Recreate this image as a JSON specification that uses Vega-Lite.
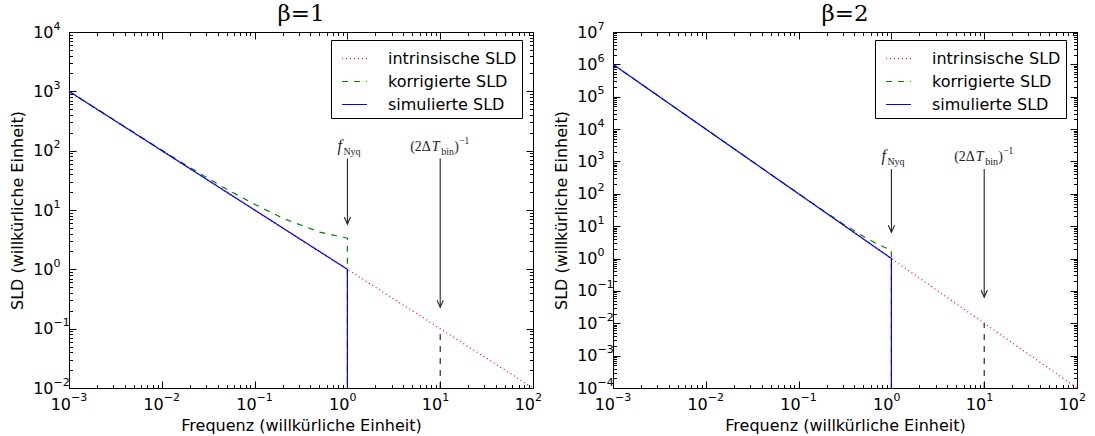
{
  "$schema": "https://vega.github.io/schema/vega-lite/v6.json",
  "padding": {"left": 8, "top": 2, "right": 5, "bottom": 0},
  "bounds": "flush",
  "spacing": 80,
  "datasets": {
    "lines_b1": [
      {"series": "intrinsische SLD", "f": 0.001, "sld": 1000},
      {"series": "intrinsische SLD", "f": 100, "sld": 0.01},
      {"series": "korrigierte SLD", "f": 0.001, "sld": 1002.3},
      {"series": "korrigierte SLD", "f": 0.003, "sld": 335.6},
      {"series": "korrigierte SLD", "f": 0.01, "sld": 102.3},
      {"series": "korrigierte SLD", "f": 0.02, "sld": 52.3},
      {"series": "korrigierte SLD", "f": 0.05, "sld": 22.35},
      {"series": "korrigierte SLD", "f": 0.1, "sld": 12.5},
      {"series": "korrigierte SLD", "f": 0.2, "sld": 7.3},
      {"series": "korrigierte SLD", "f": 0.5, "sld": 4.25},
      {"series": "korrigierte SLD", "f": 0.8, "sld": 3.6},
      {"series": "korrigierte SLD", "f": 1, "sld": 3.34},
      {"series": "korrigierte SLD", "f": 1, "sld": 0.01},
      {"series": "simulierte SLD", "f": 0.001, "sld": 1000},
      {"series": "simulierte SLD", "f": 1, "sld": 1},
      {"series": "simulierte SLD", "f": 1, "sld": 0.01}
    ],
    "lines_b2": [
      {"series": "intrinsische SLD", "f": 0.001, "sld": 1000000},
      {"series": "intrinsische SLD", "f": 100, "sld": 0.0001},
      {"series": "korrigierte SLD", "f": 0.001, "sld": 1000000},
      {"series": "korrigierte SLD", "f": 0.01, "sld": 10000.8},
      {"series": "korrigierte SLD", "f": 0.1, "sld": 100.8},
      {"series": "korrigierte SLD", "f": 0.2, "sld": 25.8},
      {"series": "korrigierte SLD", "f": 0.3, "sld": 11.9},
      {"series": "korrigierte SLD", "f": 0.5, "sld": 4.8},
      {"series": "korrigierte SLD", "f": 0.7, "sld": 2.85},
      {"series": "korrigierte SLD", "f": 0.85, "sld": 2.2},
      {"series": "korrigierte SLD", "f": 1, "sld": 1.8},
      {"series": "korrigierte SLD", "f": 1, "sld": 0.0001},
      {"series": "simulierte SLD", "f": 0.001, "sld": 1000000},
      {"series": "simulierte SLD", "f": 1, "sld": 1},
      {"series": "simulierte SLD", "f": 1, "sld": 0.0001}
    ],
    "marks_b1": [
      {"kind": "nyq", "f": 1, "ty": 100, "top": 74, "tip": 5.8},
      {"kind": "bin", "f": 10, "ty": 100, "top": 74, "tip": 0.23, "lo": 0.01, "hi": 0.1}
    ],
    "marks_b2": [
      {"kind": "nyq", "f": 1, "ty": 1000, "top": 582, "tip": 6.5},
      {"kind": "bin", "f": 10, "ty": 1000, "top": 582, "tip": 0.064, "lo": 0.0001, "hi": 0.01}
    ]
  },
  "hconcat": [
    {
      "width": 464,
      "height": 356,
      "title": {"text": "β=1"},
      "layer": [
        {
          "data": {"name": "lines_b1"},
          "mark": {"type": "line", "strokeWidth": 1.2, "clip": true},
          "encoding": {
            "x": {"field": "f", "type": "quantitative",
              "scale": {"type": "log", "domain": [0.001, 100], "nice": false},
              "axis": {"orient": "bottom", "title": "Frequenz (willkürliche Einheit)", "titlePadding": 2,
                "labelPadding": 15, "labelAlign": "right", "labelOffset": 1.5, "labelBaseline": "top",
                "values": [0.001,0.002,0.003,0.004,0.005,0.006,0.007,0.008,0.009,0.01,0.02,0.03,0.04,0.05,0.06,0.07,0.08,0.09,0.1,0.2,0.3,0.4,0.5,0.6,0.7,0.8,0.9,1,2,3,4,5,6,7,8,9,10,20,30,40,50,60,70,80,90,100],
                "labelExpr": "abs(log(datum.value)/LN10 - round(log(datum.value)/LN10)) > 0.001 ? '' : '10'",
                "tickSize": {"condition": {"test": "abs(log(datum.value)/LN10 - round(log(datum.value)/LN10)) < 0.001", "value": -7}, "value": -3.5}}},
            "y": {"field": "sld", "type": "quantitative",
              "scale": {"type": "log", "domain": [0.01, 10000], "nice": false},
              "axis": {"orient": "left", "title": "SLD (willkürliche Einheit)", "titleX": -52, "titleY": 178, "titleBaseline": "middle",
                "labelPadding": 23, "labelAlign": "right", "labelBaseline": "middle",
                "values": [0.01,0.02,0.03,0.04,0.05,0.06,0.07,0.08,0.09,0.1,0.2,0.3,0.4,0.5,0.6,0.7,0.8,0.9,1,2,3,4,5,6,7,8,9,10,20,30,40,50,60,70,80,90,100,200,300,400,500,600,700,800,900,1000,2000,3000,4000,5000,6000,7000,8000,9000,10000],
                "labelExpr": "abs(log(datum.value)/LN10 - round(log(datum.value)/LN10)) > 0.001 ? '' : '10'",
                "tickSize": {"condition": {"test": "abs(log(datum.value)/LN10 - round(log(datum.value)/LN10)) < 0.001", "value": -7}, "value": -3.5}}},
            "color": {"field": "series", "type": "nominal",
              "scale": {"domain": ["intrinsische SLD", "korrigierte SLD", "simulierte SLD"], "range": ["#ff0000", "#008000", "#0000ff"]},
              "legend": {"orient": "none", "legendX": 262, "legendY": 8, "title": null,
                "encode": {"symbols": {"update": {
                  "stroke": {"signal": "datum.value === 'intrinsische SLD' ? '#ff0000' : datum.value === 'korrigierte SLD' ? '#008000' : '#0000ff'"},
                  "strokeDash": {"signal": "datum.value === 'intrinsische SLD' ? [1, 3] : datum.value === 'korrigierte SLD' ? [6, 6] : [1, 0]"}}}}}},
            "strokeDash": {"field": "series", "type": "nominal",
              "scale": {"domain": ["intrinsische SLD", "korrigierte SLD", "simulierte SLD"], "range": [[1, 3], [6, 6], [1, 0]]},
              "legend": null},
            "order": {"value": null}
          }
        },
        {
          "data": {"name": "marks_b1"},
          "transform": [{"filter": "datum.kind === 'bin'"}],
          "mark": {"type": "rule", "color": "black", "strokeWidth": 1, "strokeDash": [6, 6]},
          "encoding": {
            "x": {"field": "f", "type": "quantitative",
              "scale": {"type": "log", "domain": [0.001, 100], "nice": false},
              "axis": {"orient": "top", "title": null, "labels": false,
                "values": [0.001,0.002,0.003,0.004,0.005,0.006,0.007,0.008,0.009,0.01,0.02,0.03,0.04,0.05,0.06,0.07,0.08,0.09,0.1,0.2,0.3,0.4,0.5,0.6,0.7,0.8,0.9,1,2,3,4,5,6,7,8,9,10,20,30,40,50,60,70,80,90,100],
                "tickSize": {"condition": {"test": "abs(log(datum.value)/LN10 - round(log(datum.value)/LN10)) < 0.001", "value": -7}, "value": -3.5}}},
            "y": {"field": "lo", "type": "quantitative",
              "scale": {"type": "log", "domain": [0.01, 10000], "nice": false},
              "axis": {"orient": "right", "title": null, "labels": false,
                "values": [0.01,0.02,0.03,0.04,0.05,0.06,0.07,0.08,0.09,0.1,0.2,0.3,0.4,0.5,0.6,0.7,0.8,0.9,1,2,3,4,5,6,7,8,9,10,20,30,40,50,60,70,80,90,100,200,300,400,500,600,700,800,900,1000,2000,3000,4000,5000,6000,7000,8000,9000,10000],
                "tickSize": {"condition": {"test": "abs(log(datum.value)/LN10 - round(log(datum.value)/LN10)) < 0.001", "value": -7}, "value": -3.5}}},
            "y2": {"field": "hi"}
          }
        },
        {
          "data": {"name": "marks_b1"},
          "mark": {"type": "rule", "color": "#222222", "strokeWidth": 1.1},
          "encoding": {
            "x": {"field": "f", "type": "quantitative",
              "axis": {"orient": "bottom", "title": null, "ticks": false, "domain": false,
                "labelFontSize": 11, "labelPadding": 3, "labelAlign": "left", "labelOffset": 1.5, "labelBaseline": "top",
                "values": [0.001,0.01,0.1,1,10,100],
                "labelExpr": "(datum.value < 0.5 ? '−' : '') + abs(round(log(datum.value)/LN10))"}},
            "y": {"field": "top", "type": "quantitative",
              "axis": {"orient": "left", "title": null, "ticks": false, "domain": false,
                "labelFontSize": 11, "labelPadding": 16, "labelAlign": "left", "labelOffset": -6, "labelBaseline": "middle",
                "values": [0.01,0.1,1,10,100,1000,10000],
                "labelExpr": "(datum.value < 0.5 ? '−' : '') + abs(round(log(datum.value)/LN10))"}},
            "y2": {"field": "tip"}
          }
        },
        {
          "data": {"name": "marks_b1"},
          "mark": {"type": "point", "shape": "M-0.45,-1L0,0L0.45,-1", "filled": false, "size": 196, "color": "#222222", "strokeWidth": 1.1, "opacity": 1},
          "encoding": {
            "x": {"field": "f", "type": "quantitative", "axis": null},
            "y": {"field": "tip", "type": "quantitative", "axis": null}
          }
        },
        {
          "data": {"name": "marks_b1"},
          "transform": [{"filter": "datum.kind === 'nyq'"}],
          "mark": {"type": "text", "text": "f", "font": "Liberation Serif", "fontStyle": "italic", "fontSize": 16, "align": "left", "baseline": "alphabetic", "dx": -10, "color": "#222222"},
          "encoding": {
            "x": {"field": "f", "type": "quantitative", "axis": null},
            "y": {"field": "ty", "type": "quantitative", "axis": null}
          }
        },
        {
          "data": {"name": "marks_b1"},
          "transform": [{"filter": "datum.kind === 'nyq'"}],
          "mark": {"type": "text", "text": "Nyq", "font": "Liberation Serif", "fontSize": 10, "align": "left", "baseline": "alphabetic", "dx": -4, "dy": 4, "color": "#222222"},
          "encoding": {
            "x": {"field": "f", "type": "quantitative", "axis": null},
            "y": {"field": "ty", "type": "quantitative", "axis": null}
          }
        },
        {
          "data": {"name": "marks_b1"},
          "transform": [{"filter": "datum.kind === 'bin'"}],
          "mark": {"type": "text", "text": "(2Δ", "font": "Liberation Serif", "fontSize": 14, "align": "left", "baseline": "alphabetic", "dx": -30, "color": "#222222"},
          "encoding": {
            "x": {"field": "f", "type": "quantitative", "axis": null},
            "y": {"field": "ty", "type": "quantitative", "axis": null}
          }
        },
        {
          "data": {"name": "marks_b1"},
          "transform": [{"filter": "datum.kind === 'bin'"}],
          "mark": {"type": "text", "text": "T", "font": "Liberation Serif", "fontStyle": "italic", "fontSize": 14, "align": "left", "baseline": "alphabetic", "dx": -8.5, "color": "#222222"},
          "encoding": {
            "x": {"field": "f", "type": "quantitative", "axis": null},
            "y": {"field": "ty", "type": "quantitative", "axis": null}
          }
        },
        {
          "data": {"name": "marks_b1"},
          "transform": [{"filter": "datum.kind === 'bin'"}],
          "mark": {"type": "text", "text": "bin", "font": "Liberation Serif", "fontSize": 10, "align": "left", "baseline": "alphabetic", "dx": 1, "dy": 4, "color": "#222222"},
          "encoding": {
            "x": {"field": "f", "type": "quantitative", "axis": null},
            "y": {"field": "ty", "type": "quantitative", "axis": null}
          }
        },
        {
          "data": {"name": "marks_b1"},
          "transform": [{"filter": "datum.kind === 'bin'"}],
          "mark": {"type": "text", "text": ")", "font": "Liberation Serif", "fontSize": 14, "align": "left", "baseline": "alphabetic", "dx": 14, "color": "#222222"},
          "encoding": {
            "x": {"field": "f", "type": "quantitative", "axis": null},
            "y": {"field": "ty", "type": "quantitative", "axis": null}
          }
        },
        {
          "data": {"name": "marks_b1"},
          "transform": [{"filter": "datum.kind === 'bin'"}],
          "mark": {"type": "text", "text": "−1", "font": "Liberation Serif", "fontSize": 9.5, "align": "left", "baseline": "alphabetic", "dx": 19, "dy": -7, "color": "#222222"},
          "encoding": {
            "x": {"field": "f", "type": "quantitative", "axis": null},
            "y": {"field": "ty", "type": "quantitative", "axis": null}
          }
        }
      ],
      "resolve": {"axis": {"x": "independent", "y": "independent"}}
    },
    {
      "width": 464,
      "height": 356,
      "title": {"text": "β=2"},
      "layer": [
        {
          "data": {"name": "lines_b2"},
          "mark": {"type": "line", "strokeWidth": 1.2, "clip": true},
          "encoding": {
            "x": {"field": "f", "type": "quantitative",
              "scale": {"type": "log", "domain": [0.001, 100], "nice": false},
              "axis": {"orient": "bottom", "title": "Frequenz (willkürliche Einheit)", "titlePadding": 2,
                "labelPadding": 15, "labelAlign": "right", "labelOffset": 1.5, "labelBaseline": "top",
                "values": [0.001,0.002,0.003,0.004,0.005,0.006,0.007,0.008,0.009,0.01,0.02,0.03,0.04,0.05,0.06,0.07,0.08,0.09,0.1,0.2,0.3,0.4,0.5,0.6,0.7,0.8,0.9,1,2,3,4,5,6,7,8,9,10,20,30,40,50,60,70,80,90,100],
                "labelExpr": "abs(log(datum.value)/LN10 - round(log(datum.value)/LN10)) > 0.001 ? '' : '10'",
                "tickSize": {"condition": {"test": "abs(log(datum.value)/LN10 - round(log(datum.value)/LN10)) < 0.001", "value": -7}, "value": -3.5}}},
            "y": {"field": "sld", "type": "quantitative",
              "scale": {"type": "log", "domain": [0.0001, 10000000], "nice": false},
              "axis": {"orient": "left", "title": "SLD (willkürliche Einheit)", "titleX": -52, "titleY": 178, "titleBaseline": "middle",
                "labelPadding": 23, "labelAlign": "right", "labelBaseline": "middle",
                "values": [0.0001,0.0002,0.0003,0.0004,0.0005,0.0006,0.0007,0.0008,0.0009,0.001,0.002,0.003,0.004,0.005,0.006,0.007,0.008,0.009,0.01,0.02,0.03,0.04,0.05,0.06,0.07,0.08,0.09,0.1,0.2,0.3,0.4,0.5,0.6,0.7,0.8,0.9,1,2,3,4,5,6,7,8,9,10,20,30,40,50,60,70,80,90,100,200,300,400,500,600,700,800,900,1000,2000,3000,4000,5000,6000,7000,8000,9000,10000,20000,30000,40000,50000,60000,70000,80000,90000,100000,200000,300000,400000,500000,600000,700000,800000,900000,1000000,2000000,3000000,4000000,5000000,6000000,7000000,8000000,9000000,10000000],
                "labelExpr": "abs(log(datum.value)/LN10 - round(log(datum.value)/LN10)) > 0.001 ? '' : '10'",
                "tickSize": {"condition": {"test": "abs(log(datum.value)/LN10 - round(log(datum.value)/LN10)) < 0.001", "value": -7}, "value": -3.5}}},
            "color": {"field": "series", "type": "nominal",
              "scale": {"domain": ["intrinsische SLD", "korrigierte SLD", "simulierte SLD"], "range": ["#ff0000", "#008000", "#0000ff"]},
              "legend": {"orient": "none", "legendX": 262, "legendY": 8, "title": null,
                "encode": {"symbols": {"update": {
                  "stroke": {"signal": "datum.value === 'intrinsische SLD' ? '#ff0000' : datum.value === 'korrigierte SLD' ? '#008000' : '#0000ff'"},
                  "strokeDash": {"signal": "datum.value === 'intrinsische SLD' ? [1, 3] : datum.value === 'korrigierte SLD' ? [6, 6] : [1, 0]"}}}}}},
            "strokeDash": {"field": "series", "type": "nominal",
              "scale": {"domain": ["intrinsische SLD", "korrigierte SLD", "simulierte SLD"], "range": [[1, 3], [6, 6], [1, 0]]},
              "legend": null},
            "order": {"value": null}
          }
        },
        {
          "data": {"name": "marks_b2"},
          "transform": [{"filter": "datum.kind === 'bin'"}],
          "mark": {"type": "rule", "color": "black", "strokeWidth": 1, "strokeDash": [6, 6]},
          "encoding": {
            "x": {"field": "f", "type": "quantitative",
              "scale": {"type": "log", "domain": [0.001, 100], "nice": false},
              "axis": {"orient": "top", "title": null, "labels": false,
                "values": [0.001,0.002,0.003,0.004,0.005,0.006,0.007,0.008,0.009,0.01,0.02,0.03,0.04,0.05,0.06,0.07,0.08,0.09,0.1,0.2,0.3,0.4,0.5,0.6,0.7,0.8,0.9,1,2,3,4,5,6,7,8,9,10,20,30,40,50,60,70,80,90,100],
                "tickSize": {"condition": {"test": "abs(log(datum.value)/LN10 - round(log(datum.value)/LN10)) < 0.001", "value": -7}, "value": -3.5}}},
            "y": {"field": "lo", "type": "quantitative",
              "scale": {"type": "log", "domain": [0.0001, 10000000], "nice": false},
              "axis": {"orient": "right", "title": null, "labels": false,
                "values": [0.0001,0.0002,0.0003,0.0004,0.0005,0.0006,0.0007,0.0008,0.0009,0.001,0.002,0.003,0.004,0.005,0.006,0.007,0.008,0.009,0.01,0.02,0.03,0.04,0.05,0.06,0.07,0.08,0.09,0.1,0.2,0.3,0.4,0.5,0.6,0.7,0.8,0.9,1,2,3,4,5,6,7,8,9,10,20,30,40,50,60,70,80,90,100,200,300,400,500,600,700,800,900,1000,2000,3000,4000,5000,6000,7000,8000,9000,10000,20000,30000,40000,50000,60000,70000,80000,90000,100000,200000,300000,400000,500000,600000,700000,800000,900000,1000000,2000000,3000000,4000000,5000000,6000000,7000000,8000000,9000000,10000000],
                "tickSize": {"condition": {"test": "abs(log(datum.value)/LN10 - round(log(datum.value)/LN10)) < 0.001", "value": -7}, "value": -3.5}}},
            "y2": {"field": "hi"}
          }
        },
        {
          "data": {"name": "marks_b2"},
          "mark": {"type": "rule", "color": "#222222", "strokeWidth": 1.1},
          "encoding": {
            "x": {"field": "f", "type": "quantitative",
              "axis": {"orient": "bottom", "title": null, "ticks": false, "domain": false,
                "labelFontSize": 11, "labelPadding": 3, "labelAlign": "left", "labelOffset": 1.5, "labelBaseline": "top",
                "values": [0.001,0.01,0.1,1,10,100],
                "labelExpr": "(datum.value < 0.5 ? '−' : '') + abs(round(log(datum.value)/LN10))"}},
            "y": {"field": "top", "type": "quantitative",
              "axis": {"orient": "left", "title": null, "ticks": false, "domain": false,
                "labelFontSize": 11, "labelPadding": 16, "labelAlign": "left", "labelOffset": -6, "labelBaseline": "middle",
                "values": [0.0001,0.001,0.01,0.1,1,10,100,1000,10000,100000,1000000,10000000],
                "labelExpr": "(datum.value < 0.5 ? '−' : '') + abs(round(log(datum.value)/LN10))"}},
            "y2": {"field": "tip"}
          }
        },
        {
          "data": {"name": "marks_b2"},
          "mark": {"type": "point", "shape": "M-0.45,-1L0,0L0.45,-1", "filled": false, "size": 196, "color": "#222222", "strokeWidth": 1.1, "opacity": 1},
          "encoding": {
            "x": {"field": "f", "type": "quantitative", "axis": null},
            "y": {"field": "tip", "type": "quantitative", "axis": null}
          }
        },
        {
          "data": {"name": "marks_b2"},
          "transform": [{"filter": "datum.kind === 'nyq'"}],
          "mark": {"type": "text", "text": "f", "font": "Liberation Serif", "fontStyle": "italic", "fontSize": 16, "align": "left", "baseline": "alphabetic", "dx": -10, "color": "#222222"},
          "encoding": {
            "x": {"field": "f", "type": "quantitative", "axis": null},
            "y": {"field": "ty", "type": "quantitative", "axis": null}
          }
        },
        {
          "data": {"name": "marks_b2"},
          "transform": [{"filter": "datum.kind === 'nyq'"}],
          "mark": {"type": "text", "text": "Nyq", "font": "Liberation Serif", "fontSize": 10, "align": "left", "baseline": "alphabetic", "dx": -4, "dy": 4, "color": "#222222"},
          "encoding": {
            "x": {"field": "f", "type": "quantitative", "axis": null},
            "y": {"field": "ty", "type": "quantitative", "axis": null}
          }
        },
        {
          "data": {"name": "marks_b2"},
          "transform": [{"filter": "datum.kind === 'bin'"}],
          "mark": {"type": "text", "text": "(2Δ", "font": "Liberation Serif", "fontSize": 14, "align": "left", "baseline": "alphabetic", "dx": -30, "color": "#222222"},
          "encoding": {
            "x": {"field": "f", "type": "quantitative", "axis": null},
            "y": {"field": "ty", "type": "quantitative", "axis": null}
          }
        },
        {
          "data": {"name": "marks_b2"},
          "transform": [{"filter": "datum.kind === 'bin'"}],
          "mark": {"type": "text", "text": "T", "font": "Liberation Serif", "fontStyle": "italic", "fontSize": 14, "align": "left", "baseline": "alphabetic", "dx": -8.5, "color": "#222222"},
          "encoding": {
            "x": {"field": "f", "type": "quantitative", "axis": null},
            "y": {"field": "ty", "type": "quantitative", "axis": null}
          }
        },
        {
          "data": {"name": "marks_b2"},
          "transform": [{"filter": "datum.kind === 'bin'"}],
          "mark": {"type": "text", "text": "bin", "font": "Liberation Serif", "fontSize": 10, "align": "left", "baseline": "alphabetic", "dx": 1, "dy": 4, "color": "#222222"},
          "encoding": {
            "x": {"field": "f", "type": "quantitative", "axis": null},
            "y": {"field": "ty", "type": "quantitative", "axis": null}
          }
        },
        {
          "data": {"name": "marks_b2"},
          "transform": [{"filter": "datum.kind === 'bin'"}],
          "mark": {"type": "text", "text": ")", "font": "Liberation Serif", "fontSize": 14, "align": "left", "baseline": "alphabetic", "dx": 14, "color": "#222222"},
          "encoding": {
            "x": {"field": "f", "type": "quantitative", "axis": null},
            "y": {"field": "ty", "type": "quantitative", "axis": null}
          }
        },
        {
          "data": {"name": "marks_b2"},
          "transform": [{"filter": "datum.kind === 'bin'"}],
          "mark": {"type": "text", "text": "−1", "font": "Liberation Serif", "fontSize": 9.5, "align": "left", "baseline": "alphabetic", "dx": 19, "dy": -7, "color": "#222222"},
          "encoding": {
            "x": {"field": "f", "type": "quantitative", "axis": null},
            "y": {"field": "ty", "type": "quantitative", "axis": null}
          }
        }
      ],
      "resolve": {"axis": {"x": "independent", "y": "independent"}}
    }
  ],
  "resolve": {
    "scale": {"color": "independent", "strokeDash": "independent"},
    "legend": {"color": "independent", "strokeDash": "independent"}
  },
  "config": {
    "font": "DejaVu Sans",
    "background": "white",
    "view": {"stroke": "black", "strokeWidth": 1},
    "axis": {
      "grid": false,
      "domainColor": "black", "domainWidth": 1,
      "tickColor": "black", "tickWidth": 1,
      "labelColor": "black", "labelFont": "DejaVu Sans", "labelFontSize": 16,
      "labelOverlap": false, "labelFlush": false, "labelBound": false,
      "titleColor": "black", "titleFont": "DejaVu Sans", "titleFontSize": 16, "titleFontWeight": "normal"
    },
    "legend": {
      "strokeColor": "black", "fillColor": "white", "padding": 5, "cornerRadius": 0,
      "symbolType": "stroke", "symbolSize": 625, "symbolStrokeWidth": 1.2, "symbolOffset": 5,
      "labelFont": "DejaVu Sans", "labelFontSize": 16, "labelColor": "black", "labelOffset": 20,
      "rowPadding": 1
    },
    "title": {"font": "DejaVu Serif", "fontSize": 23, "fontWeight": "normal", "color": "black", "offset": -6, "baseline": "alphabetic"}
  }
}
